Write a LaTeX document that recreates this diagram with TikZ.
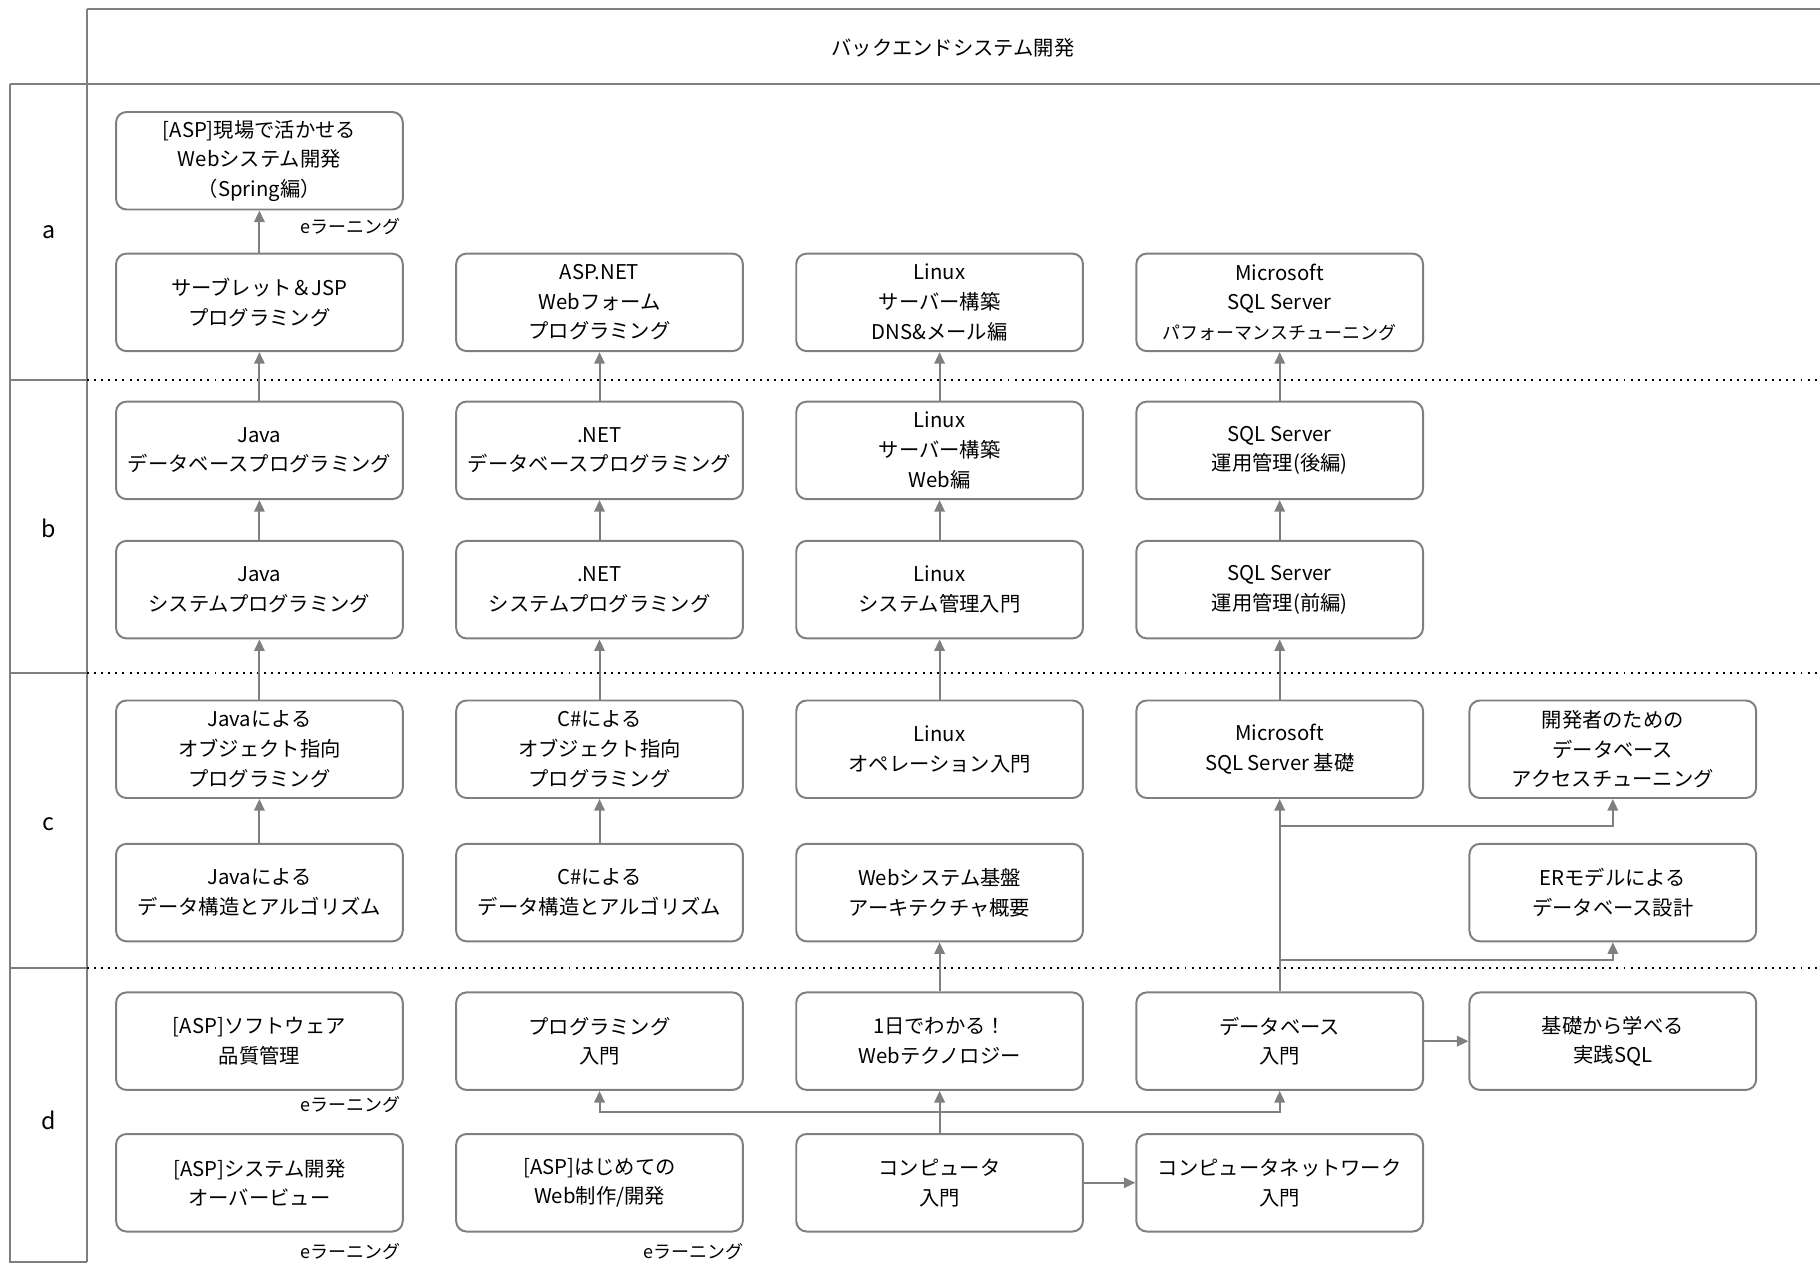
\documentclass[tikz,border=0pt]{standalone}
\usepackage{fontspec}
\setmainfont{Noto Sans CJK JP}
\usetikzlibrary{arrows.meta}
\definecolor{gr}{HTML}{7F7F7F}
\begin{document}
\begin{tikzpicture}[x=1pt,y=-1pt,
  box/.style={draw=gr, line width=1.7pt, rounded corners=9pt, minimum width=247pt, minimum height=84pt, align=center, inner sep=2pt, font=\fontsize{17.5}{25.5}\selectfont},
  arr/.style={draw=gr, line width=1.7pt, -{Triangle[length=10pt,width=9pt]}},
  frame/.style={draw=gr, line width=1.7pt},
  dotline/.style={draw=black, line width=1.7pt, dash pattern=on 1.7pt off 4.4pt},
  elabel/.style={anchor=east, inner sep=0pt, font=\fontsize{15.5}{18}\selectfont},
  rowlabel/.style={font=\fontsize{20}{24}\selectfont}]
\useasboundingbox (0,0) rectangle (1568,1089);
% frame
\draw[frame] (75,8) -- (1568,8);
\draw[frame] (75,8) -- (75,1087);
\draw[frame] (9,72) -- (1568,72);
\draw[frame] (9,72) -- (9,1087) -- (75,1087);
\foreach \yy in {327,580,834} {
  \draw[frame] (9,\yy) -- (75,\yy);
  \draw[dotline] (75,\yy) -- (1568,\yy);
}
\node[font=\fontsize{17.5}{20}\selectfont] (title) at (821,41) {バックエンドシステム開発};
\node[rowlabel] (ra) at (42,200) {a};
\node[rowlabel] (rb) at (42,455) {b};
\node[rowlabel] (rc) at (42,710) {c};
\node[rowlabel] (rd) at (42,965) {d};
% column 1
\node[box] (a0c1) at (223.5,138.5) {[ASP]現場で活かせる\\Webシステム開発\\（Spring編）};
\node[box] (a1c1) at (223.5,260.5) {サーブレット＆JSP\\プログラミング};
\node[box] (b1c1) at (223.5,388) {Java\\データベースプログラミング};
\node[box] (b2c1) at (223.5,508) {Java\\システムプログラミング};
\node[box] (c1c1) at (223.5,645.5) {Javaによる\\オブジェクト指向\\プログラミング};
\node[box] (c2c1) at (223.5,769) {Javaによる\\データ構造とアルゴリズム};
\node[box] (d1c1) at (223.5,897) {[ASP]ソフトウェア\\品質管理};
\node[box] (d2c1) at (223.5,1019) {[ASP]システム開発\\オーバービュー};
% column 2
\node[box] (a1c2) at (516.5,260.5) {ASP.NET\\Webフォーム\\プログラミング};
\node[box] (b1c2) at (516.5,388) {.NET\\データベースプログラミング};
\node[box] (b2c2) at (516.5,508) {.NET\\システムプログラミング};
\node[box] (c1c2) at (516.5,645.5) {C\#による\\オブジェクト指向\\プログラミング};
\node[box] (c2c2) at (516.5,769) {C\#による\\データ構造とアルゴリズム};
\node[box] (d1c2) at (516.5,897) {プログラミング\\入門};
\node[box] (d2c2) at (516.5,1019) {[ASP]はじめての\\Web制作/開発};
% column 3
\node[box] (a1c3) at (809.5,260.5) {Linux\\サーバー構築\\DNS\&メール編};
\node[box] (b1c3) at (809.5,388) {Linux\\サーバー構築\\Web編};
\node[box] (b2c3) at (809.5,508) {Linux\\システム管理入門};
\node[box] (c1c3) at (809.5,645.5) {Linux\\オペレーション入門};
\node[box] (c2c3) at (809.5,769) {Webシステム基盤\\アーキテクチャ概要};
\node[box] (d1c3) at (809.5,897) {1日でわかる！\\Webテクノロジー};
\node[box] (d2c3) at (809.5,1019) {コンピュータ\\入門};
% column 4
\node[box] (a1c4) at (1102.5,260.5) {Microsoft\\SQL Server\\{\fontsize{15.5}{25.5}\selectfont パフォーマンスチューニング}};
\node[box] (b1c4) at (1102.5,388) {SQL Server\\運用管理(後編)};
\node[box] (b2c4) at (1102.5,508) {SQL Server\\運用管理(前編)};
\node[box] (c1c4) at (1102.5,645.5) {Microsoft\\SQL Server 基礎};
\node[box] (d1c4) at (1102.5,897) {データベース\\入門};
\node[box] (d2c4) at (1102.5,1019) {コンピュータネットワーク\\入門};
% column 5
\node[box] (c1c5) at (1389.5,645.5) {開発者のための\\データベース\\アクセスチューニング};
\node[box] (c2c5) at (1389.5,769) {ERモデルによる\\データベース設計};
\node[box] (d1c5) at (1389.5,897) {基礎から学べる\\実践SQL};
% e-learning labels
\node[elabel] (e1) at (345,195) {eラーニング};
\node[elabel] (e2) at (345,952) {eラーニング};
\node[elabel] (e3) at (345,1078) {eラーニング};
\node[elabel] (e4) at (641,1078) {eラーニング};
% connectors column 1
\draw[arr] (a1c1) -- (a0c1);
\draw[arr] (b1c1) -- (a1c1);
\draw[arr] (b2c1) -- (b1c1);
\draw[arr] (c1c1) -- (b2c1);
\draw[arr] (c2c1) -- (c1c1);
% column 2
\draw[arr] (b1c2) -- (a1c2);
\draw[arr] (b2c2) -- (b1c2);
\draw[arr] (c1c2) -- (b2c2);
\draw[arr] (c2c2) -- (c1c2);
% column 3
\draw[arr] (b1c3) -- (a1c3);
\draw[arr] (b2c3) -- (b1c3);
\draw[arr] (c1c3) -- (b2c3);
\draw[arr] (d1c3) -- (c2c3);
\draw[arr] (d2c3) -- (d1c3);
% column 4
\draw[arr] (b1c4) -- (a1c4);
\draw[arr] (b2c4) -- (b1c4);
\draw[arr] (c1c4) -- (b2c4);
\draw[arr] (d1c4) -- (c1c4);
% branches
\coordinate (k1) at (1102.5,712);
\coordinate (k2) at (1102.5,827);
\draw[arr] (k1) -| (c1c5.south);
\draw[arr] (k2) -| (c2c5.south);
\coordinate (j1) at (809.5,958);
\draw[arr] (j1) -| (d1c2.south);
\draw[arr] (j1) -| (d1c4.south);
% horizontal arrows
\draw[arr] (d2c3) -- (d2c4);
\draw[arr] (d1c4) -- (d1c5);
\end{tikzpicture}
\end{document}
